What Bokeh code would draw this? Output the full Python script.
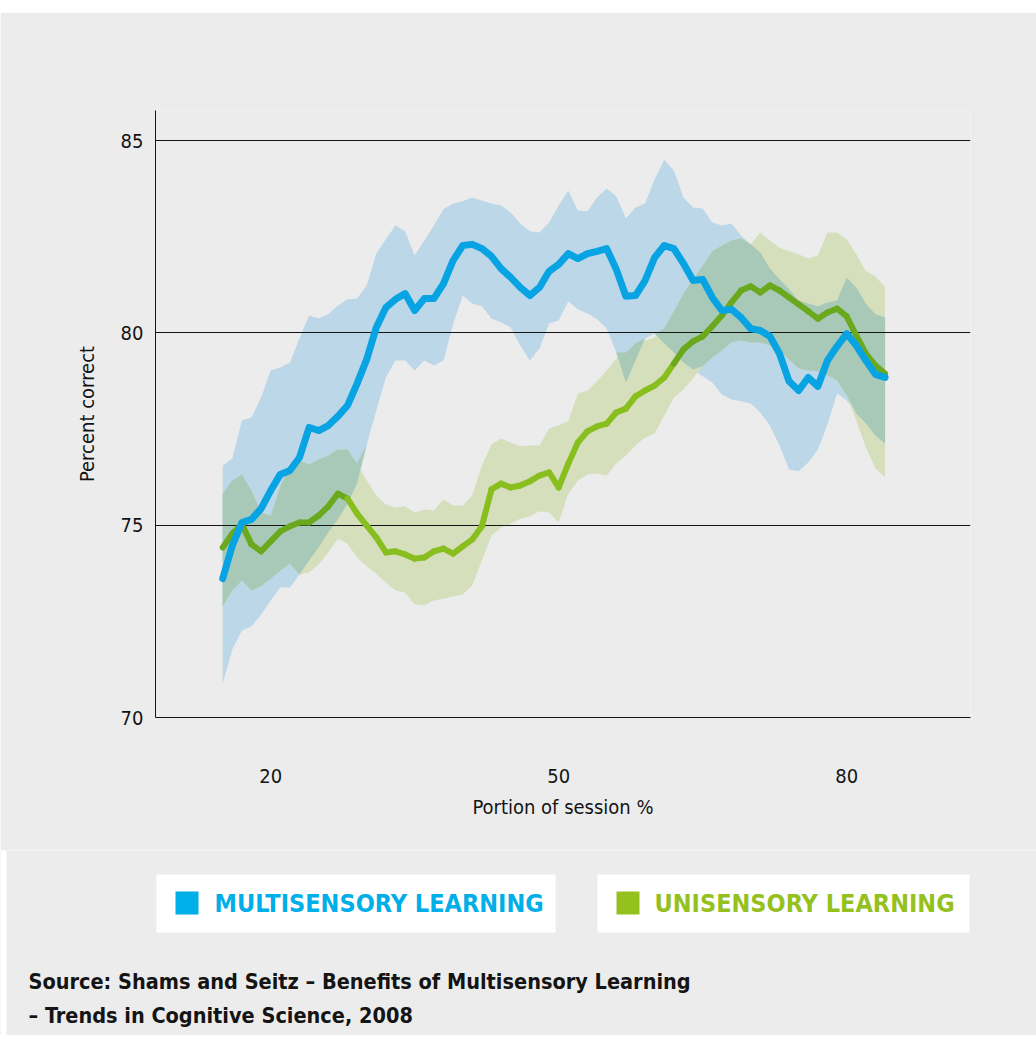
import numpy as np
from bokeh.plotting import figure
from bokeh.models import Range1d, FixedTicker
from bokeh.core.properties import value
from bokeh.embed import file_html
from bokeh.resources import INLINE

# ---------------- data ----------------
session = list(range(15, 85))   # portion of session, %

multi_mean = [73.61, 74.47, 75.07, 75.15, 75.43, 75.90, 76.32, 76.42, 76.76, 77.54,
              77.46, 77.59, 77.83, 78.11, 78.68, 79.31, 80.14, 80.66, 80.87, 81.02,
              80.58, 80.89, 80.89, 81.28, 81.88, 82.27, 82.30, 82.19, 81.99, 81.67,
              81.44, 81.18, 80.97, 81.18, 81.60, 81.78, 82.06, 81.93, 82.06, 82.12,
              82.19, 81.65, 80.95, 80.97, 81.36, 81.96, 82.27, 82.19, 81.80, 81.36,
              81.39, 80.92, 80.58, 80.61, 80.40, 80.11, 80.06, 79.91, 79.46, 78.74,
              78.50, 78.84, 78.61, 79.28, 79.65, 79.98, 79.67, 79.28, 78.92, 78.84]
multi_low = [70.88, 71.77, 72.26, 72.37, 72.68, 73.04, 73.38, 73.38, 73.72, 74.08,
             74.42, 74.81, 75.15, 75.56, 76.08, 77.10, 77.98, 78.84, 79.28, 79.28,
             79.02, 79.28, 79.15, 79.28, 80.22, 80.97, 80.76, 80.69, 80.37, 80.27,
             80.14, 79.67, 79.28, 79.59, 80.24, 80.32, 80.82, 80.61, 80.50, 80.35,
             80.11, 79.49, 78.71, 79.28, 79.85, 79.98, 79.72, 79.49, 79.23, 79.05,
             78.87, 78.71, 78.40, 78.27, 78.22, 78.16, 77.93, 77.59, 77.07, 76.45,
             76.40, 76.63, 76.97, 77.62, 78.42, 78.24, 77.90, 77.64, 77.33, 77.12]
multi_high = [76.55, 76.73, 77.72, 77.80, 78.32, 79.02, 79.10, 79.23, 79.85, 80.45,
              80.37, 80.48, 80.71, 80.87, 80.89, 81.23, 82.06, 82.43, 82.79, 82.64,
              82.01, 82.40, 82.79, 83.21, 83.36, 83.42, 83.52, 83.44, 83.36, 83.31,
              83.13, 82.84, 82.64, 82.61, 82.87, 83.31, 83.70, 83.18, 83.16, 83.52,
              83.75, 83.55, 82.97, 83.26, 83.36, 83.99, 84.50, 84.22, 83.52, 83.26,
              83.23, 82.87, 82.79, 82.84, 82.53, 82.30, 82.09, 81.67, 81.39, 81.13,
              80.84, 80.76, 80.69, 80.79, 80.84, 81.44, 81.18, 80.76, 80.48, 80.40]

uni_mean = [74.42, 74.78, 75.02, 74.50, 74.32, 74.58, 74.84, 74.97, 75.07, 75.07,
            75.25, 75.49, 75.82, 75.69, 75.30, 74.99, 74.68, 74.29, 74.32, 74.24,
            74.13, 74.16, 74.32, 74.39, 74.26, 74.45, 74.63, 74.97, 75.93, 76.08,
            75.98, 76.03, 76.14, 76.29, 76.37, 75.98, 76.60, 77.15, 77.44, 77.57,
            77.64, 77.93, 78.03, 78.35, 78.50, 78.63, 78.84, 79.20, 79.57, 79.78,
            79.91, 80.17, 80.45, 80.79, 81.10, 81.21, 81.05, 81.23, 81.10, 80.92,
            80.74, 80.56, 80.37, 80.53, 80.63, 80.43, 79.93, 79.46, 79.15, 78.94]
uni_low = [72.89, 73.30, 73.56, 73.30, 73.41, 73.61, 73.82, 74.00, 73.72, 73.77,
           73.98, 74.29, 74.65, 74.52, 74.16, 73.93, 73.74, 73.51, 73.30, 73.25,
           72.94, 72.91, 73.04, 73.09, 73.15, 73.20, 73.43, 74.08, 74.73, 74.94,
           75.04, 75.17, 75.23, 75.36, 75.33, 75.07, 75.82, 76.16, 76.32, 76.34,
           76.29, 76.60, 76.81, 77.07, 77.28, 77.38, 77.85, 78.32, 78.53, 78.81,
           79.13, 79.36, 79.54, 79.75, 79.80, 79.75, 79.75, 79.67, 79.54, 79.31,
           79.07, 79.02, 79.00, 78.89, 78.76, 78.37, 77.72, 77.02, 76.47, 76.24]
uni_high = [75.82, 76.16, 76.32, 75.90, 75.33, 75.25, 76.01, 76.53, 76.68, 76.58,
            76.71, 76.81, 76.97, 76.97, 76.60, 76.16, 75.77, 75.54, 75.46, 75.49,
            75.33, 75.41, 75.38, 75.67, 75.51, 75.51, 75.77, 76.55, 77.10, 77.25,
            77.15, 77.05, 77.07, 77.07, 77.51, 77.59, 77.70, 78.42, 78.50, 78.74,
            79.02, 79.33, 79.49, 79.72, 79.80, 79.88, 80.11, 80.56, 81.02, 81.39,
            81.75, 82.12, 82.27, 82.40, 82.45, 82.30, 82.61, 82.40, 82.22, 82.12,
            82.04, 81.93, 82.01, 82.61, 82.61, 82.43, 82.04, 81.60, 81.47, 81.18]

x_ticks = [20, 50, 80]
y_ticks = [70, 75, 80, 85]
grid_values = [75, 80, 85]
series_names = ["MULTISENSORY LEARNING", "UNISENSORY LEARNING"]
source_lines = ["Source: Shams and Seitz \u2013 Benefits of Multisensory Learning",
                "\u2013 Trends in Cognitive Science, 2008"]
x_title = "Portion of session %"
y_title = "Percent correct"

# ---------------- styles ----------------
BG = "#ececec"
INK = "#141414"
BLUE = "#00aee8"
GREEN = "#95c11f"
BLUE_LINE = "#07a3e3"
BLUE_BAND = "#bbd7e8"
GREEN_BAND = "#d5dfbb"
OVERLAP = "#a9c9b8"
GREEN_ON_BG = "#89be1f"
GREEN_ON_OVERLAP = "#6aa81e"
FONT = "Liberation Sans Narrow, DejaVu Sans Condensed, Roboto, sans-serif"
W = 1036


def blank(fig, fill):
    fig.background_fill_color = fill
    fig.border_fill_color = fill
    fig.outline_line_color = None
    fig.grid.visible = False


# ---------------- white top margin ----------------
p0 = figure(frame_width=W, frame_height=12, min_border=0,
            x_range=Range1d(0, 1), y_range=Range1d(0, 1),
            x_axis_location=None, y_axis_location=None,
            output_backend="svg", toolbar_location=None)
blank(p0, "white")

# ---------------- main chart ----------------
p = figure(frame_width=815, frame_height=607,
           min_border_left=155, min_border_right=66,
           min_border_top=98, min_border_bottom=133,
           x_range=Range1d(8, 92.9), y_range=Range1d(70, 85.78),
           output_backend="svg", toolbar_location=None)
p.background_fill_color = BG
p.border_fill_color = BG
p.outline_line_color = None

x = np.array(session, dtype=float)
ml, mh = np.array(multi_low), np.array(multi_high)
ul, uh = np.array(uni_low), np.array(uni_high)
um = np.array(uni_mean)

p.varea(x=x, y1=ml, y2=mh, fill_color=BLUE_BAND, level="image")
p.varea(x=x, y1=ul, y2=uh, fill_color=GREEN_BAND, level="image")
ov_lo = np.maximum(ml, ul)
ov_hi = np.maximum(np.minimum(mh, uh), ov_lo)
p.varea(x=x, y1=ov_lo, y2=ov_hi, fill_color=OVERLAP, level="image")

# unisensory mean line: darker where it runs over the overlap of both bands
mid = (um[:-1] + um[1:]) / 2
lo_mid = (ml[:-1] + ml[1:]) / 2
hi_mid = (mh[:-1] + mh[1:]) / 2
seg_colors = [GREEN_ON_OVERLAP if (a >= b and a <= c) else GREEN_ON_BG
              for a, b, c in zip(mid, lo_mid, hi_mid)]
p.segment(x0=x[:-1], y0=um[:-1], x1=x[1:], y1=um[1:],
          line_color=seg_colors, line_width=6, line_cap="round")

p.line(x=x, y=multi_mean, line_color=BLUE_LINE, line_width=7,
       line_cap="round", line_join="round")

p.xgrid.visible = False
p.ygrid.ticker = FixedTicker(ticks=grid_values)
p.ygrid.grid_line_color = INK
p.ygrid.grid_line_width = 1

for ax in (p.xaxis[0], p.yaxis[0]):
    ax.axis_line_color = INK
    ax.axis_line_width = 1
    ax.major_tick_line_color = None
    ax.minor_tick_line_color = None
    ax.major_tick_out = 0
    ax.major_tick_in = 0
    ax.major_label_text_font = FONT
    ax.major_label_text_font_size = "20px"
    ax.major_label_text_color = INK
    ax.axis_label_text_font = FONT
    ax.axis_label_text_font_size = "20px"
    ax.axis_label_text_font_style = "normal"
    ax.axis_label_text_color = INK

p.xaxis.ticker = FixedTicker(ticks=x_ticks)
p.yaxis.ticker = FixedTicker(ticks=y_ticks)
p.xaxis.major_label_standoff = 51
p.yaxis.major_label_standoff = 12
p.xaxis.axis_label = x_title
p.yaxis.axis_label = y_title
p.xaxis.axis_label_standoff = 9
p.yaxis.axis_label_standoff = 19

# ---------------- legend + source strip ----------------
H2 = 185
p2 = figure(frame_width=W, frame_height=H2, min_border=0,
            x_range=Range1d(0, W), y_range=Range1d(0, H2),
            x_axis_location=None, y_axis_location=None,
            output_backend="svg", toolbar_location=None)
blank(p2, BG)

p2.quad(left=[0], right=[6], bottom=[0], top=[H2], fill_color="white", line_color=None)
p2.quad(left=[156, 597], right=[555, 969], bottom=[103, 103], top=[161, 161],
        fill_color="white", line_color=None)
p2.quad(left=[175, 616], right=[198, 639], bottom=[121, 121], top=[144, 144],
        fill_color=[BLUE, GREEN], line_color=None)
p2.text(x=[214, 654], y=[132.5, 132.5], text=series_names,
        text_color=[BLUE, GREEN], text_font=value(FONT), text_font_size="25px",
        text_font_style="bold", text_baseline="middle", text_align="left")
p2.text(x=[28, 28], y=[54, 20], text=source_lines,
        text_color=INK, text_font=value(FONT), text_font_size="21.5px",
        text_font_style="bold", text_baseline="middle", text_align="left")

open("out.html", "w").write(file_html([p0, p, p2], INLINE))
